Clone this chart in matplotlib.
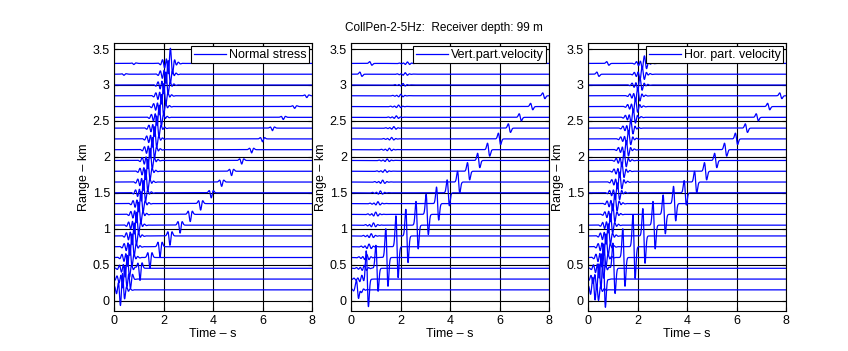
import numpy as np
import matplotlib.pyplot as plt

plt.rcParams['font.family'] = ['Liberation Sans', 'DejaVu Sans']

ranges = [0.15, 0.30, 0.45, 0.60, 0.75, 0.90, 1.05, 1.20, 1.35, 1.50, 1.65,
          1.80, 1.95, 2.10, 2.25, 2.40, 2.55, 2.70, 2.85, 3.00, 3.15, 3.30]
t_fast = [0.30, 0.40, 0.50, 0.60, 0.69, 0.78, 0.87, 0.96, 1.05, 1.15, 1.24,
          1.33, 1.42, 1.51, 1.60, 1.69, 1.79, 1.88, 1.97, 2.06, 2.15, 2.24]
t_slow = [0.27, 0.66, 1.05, 1.45, 1.86, 2.26, 2.67, 3.08, 3.50, 3.93, 4.35,
          4.75, 5.16, 5.56, 6.00, 6.40, 6.84, 7.30, 7.79, 8.20, 0.40, 0.80]

# peak amplitudes (in km of plot offset) for each panel
stress_fast = [0.18, 0.17, 0.17, 0.17, 0.17, 0.17, 0.17, 0.16, 0.16, 0.16, 0.16,
               0.16, 0.16, 0.16, 0.16, 0.16, 0.16, 0.16, 0.16, 0.17, 0.18, 0.20]
stress_slow = [0.10, 0.12, 0.17, 0.15, 0.14, 0.13, 0.11, 0.10, 0.09, 0.07, 0.06,
               0.06, 0.05, 0.045, 0.04, 0.035, 0.03, 0.025, 0.025, 0.02, 0.015, 0.015]
vert_fast = [0.05, 0.05, 0.04, 0.04, 0.035, 0.03, 0.03, 0.03, 0.025, 0.025, 0.025,
             0.02, 0.02, 0.02, 0.02, 0.02, 0.02, 0.02, 0.02, 0.02, 0.02, 0.02]
vert_slow = [0.15, 0.38, 0.32, 0.40, 0.43, 0.37, 0.33, 0.28, 0.23, 0.18, 0.15,
             0.12, 0.10, 0.09, 0.08, 0.06, 0.05, 0.045, 0.04, 0.03, 0.03, 0.025]
hor_fast = [0.20, 0.20, 0.19, 0.18, 0.17, 0.16, 0.15, 0.14, 0.14, 0.13, 0.13,
            0.12, 0.12, 0.12, 0.11, 0.11, 0.11, 0.11, 0.10, 0.10, 0.10, 0.10]
hor_slow = [0.20, 0.38, 0.35, 0.40, 0.44, 0.38, 0.33, 0.27, 0.24, 0.17, 0.15,
            0.12, 0.10, 0.09, 0.08, 0.06, 0.05, 0.045, 0.04, 0.03, 0.03, 0.025]

titles = ['Normal stress', 'Vert.part.velocity', 'Hor. part. velocity']
panels = [(stress_fast, stress_slow, 'dip'),
          (vert_fast, vert_slow, 'kick'),
          (hor_fast, hor_slow, 'kick')]

t = np.linspace(0, 8, 3201)


def packet(tau):
    env = np.exp(-(tau / 0.24) ** 2)
    return env * (0.75 * np.sin(2 * np.pi * 6.0 * tau)
                  + 0.35 * np.sin(2 * np.pi * 3.5 * tau + 1.0))


def dip(tau):
    s = 0.07
    return -(1 - 2 * (tau / s) ** 2) * np.exp(-(tau / s) ** 2)


def kick(tau):
    s = 0.045
    return -(tau / s) * np.exp(0.5 - 0.5 * (tau / s) ** 2)


fig = plt.figure(figsize=(8.48, 3.51), dpi=100)
lefts = [114 / 848, 351 / 848, 588 / 848]
for k, (fast, slow, shape) in enumerate(panels):
    ax = fig.add_axes([lefts[k], 40.3 / 351, 198 / 848, 267.4 / 351])
    ax.grid(True, color='k', linewidth=0.8)
    ax.set_axisbelow(True)
    for i, r in enumerate(ranges):
        w = dip if shape == 'dip' else kick
        y = r + fast[i] * packet(t - t_fast[i]) + slow[i] * w(t - t_slow[i])
        ax.plot(t, y, color='b', linewidth=0.9,
                label=titles[k] if i == 0 else None)
    ax.set_xlim(0, 8)
    ax.set_ylim(-0.14, 3.58)
    ax.set_xticks([0, 2, 4, 6, 8])
    ax.set_yticks([0, 0.5, 1, 1.5, 2, 2.5, 3, 3.5])
    ax.set_yticklabels(['0', '0.5', '1', '1.5', '2', '2.5', '3', '3.5'])
    ax.tick_params(direction='in', top=True, right=True, labelsize=9,
                   length=3, pad=3)
    ax.set_xlabel('Time – s', fontsize=9, labelpad=1)
    ax.set_ylabel('Range – km', fontsize=9, labelpad=2)
    leg = ax.legend(loc='upper right', fontsize=9, fancybox=False,
                    framealpha=1, edgecolor='k', borderpad=0.2,
                    borderaxespad=0.25, handlelength=2.6, handletextpad=0.2)
    leg.get_frame().set_linewidth(0.8)

fig.text(444 / 848, 1 - 28 / 351, 'CollPen-2-5Hz:  Receiver depth: 99 m',
         ha='center', va='center', fontsize=8.5)

fig.savefig('out.png', dpi=100)
